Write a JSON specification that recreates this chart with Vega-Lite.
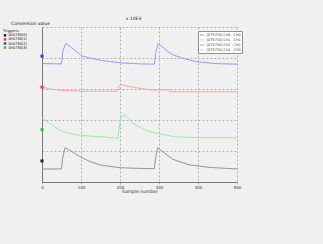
{
  "$schema": "https://vega.github.io/schema/vega-lite/v6.json",
  "width": 195,
  "height": 155,
  "autosize": {"type": "none"},
  "padding": {"left": 42, "top": 27, "right": 86, "bottom": 62},
  "background": "#f0f0f0",
  "config": {
    "font": "DejaVu Sans",
    "view": {"fill": "#f0f0f0", "stroke": null}
  },
  "title": {"text": "x 10E4", "fontSize": 4.5, "fontWeight": "normal", "color": "#333333", "offset": 0, "anchor": "middle", "dx": -6},
  "datasets": {
    "traces": [
      {"channel": "[DT5730] Ch0 - CH0", "sample": 0, "value": 0.42},
      {"channel": "[DT5730] Ch0 - CH0", "sample": 50, "value": 0.42},
      {"channel": "[DT5730] Ch0 - CH0", "sample": 53, "value": 0.77},
      {"channel": "[DT5730] Ch0 - CH0", "sample": 59, "value": 1.11},
      {"channel": "[DT5730] Ch0 - CH0", "sample": 72, "value": 1.02},
      {"channel": "[DT5730] Ch0 - CH0", "sample": 97, "value": 0.82},
      {"channel": "[DT5730] Ch0 - CH0", "sample": 123, "value": 0.66},
      {"channel": "[DT5730] Ch0 - CH0", "sample": 149, "value": 0.55},
      {"channel": "[DT5730] Ch0 - CH0", "sample": 200, "value": 0.46},
      {"channel": "[DT5730] Ch0 - CH0", "sample": 251, "value": 0.44},
      {"channel": "[DT5730] Ch0 - CH0", "sample": 288, "value": 0.43},
      {"channel": "[DT5730] Ch0 - CH0", "sample": 291, "value": 0.77},
      {"channel": "[DT5730] Ch0 - CH0", "sample": 297, "value": 1.11},
      {"channel": "[DT5730] Ch0 - CH0", "sample": 310, "value": 0.97},
      {"channel": "[DT5730] Ch0 - CH0", "sample": 336, "value": 0.73},
      {"channel": "[DT5730] Ch0 - CH0", "sample": 354, "value": 0.65},
      {"channel": "[DT5730] Ch0 - CH0", "sample": 379, "value": 0.55},
      {"channel": "[DT5730] Ch0 - CH0", "sample": 431, "value": 0.47},
      {"channel": "[DT5730] Ch0 - CH0", "sample": 500, "value": 0.42},

      {"channel": "[DT5730] Ch1 - CH1", "sample": 0, "value": 3.07},
      {"channel": "[DT5730] Ch1 - CH1", "sample": 20, "value": 3.0},
      {"channel": "[DT5730] Ch1 - CH1", "sample": 55, "value": 2.95},
      {"channel": "[DT5730] Ch1 - CH1", "sample": 100, "value": 2.93},
      {"channel": "[DT5730] Ch1 - CH1", "sample": 194, "value": 2.93},
      {"channel": "[DT5730] Ch1 - CH1", "sample": 196, "value": 3.06},
      {"channel": "[DT5730] Ch1 - CH1", "sample": 201, "value": 3.15},
      {"channel": "[DT5730] Ch1 - CH1", "sample": 213, "value": 3.11},
      {"channel": "[DT5730] Ch1 - CH1", "sample": 238, "value": 3.05},
      {"channel": "[DT5730] Ch1 - CH1", "sample": 277, "value": 2.97},
      {"channel": "[DT5730] Ch1 - CH1", "sample": 326, "value": 2.97},
      {"channel": "[DT5730] Ch1 - CH1", "sample": 328, "value": 2.91},
      {"channel": "[DT5730] Ch1 - CH1", "sample": 500, "value": 2.91},

      {"channel": "[DT5730] Ch2 - CH2", "sample": 0, "value": 3.82},
      {"channel": "[DT5730] Ch2 - CH2", "sample": 50, "value": 3.81},
      {"channel": "[DT5730] Ch2 - CH2", "sample": 53, "value": 4.2},
      {"channel": "[DT5730] Ch2 - CH2", "sample": 61, "value": 4.47},
      {"channel": "[DT5730] Ch2 - CH2", "sample": 72, "value": 4.37},
      {"channel": "[DT5730] Ch2 - CH2", "sample": 85, "value": 4.24},
      {"channel": "[DT5730] Ch2 - CH2", "sample": 102, "value": 4.07},
      {"channel": "[DT5730] Ch2 - CH2", "sample": 123, "value": 4.0},
      {"channel": "[DT5730] Ch2 - CH2", "sample": 153, "value": 3.92},
      {"channel": "[DT5730] Ch2 - CH2", "sample": 204, "value": 3.84},
      {"channel": "[DT5730] Ch2 - CH2", "sample": 251, "value": 3.81},
      {"channel": "[DT5730] Ch2 - CH2", "sample": 288, "value": 3.8},
      {"channel": "[DT5730] Ch2 - CH2", "sample": 292, "value": 4.19},
      {"channel": "[DT5730] Ch2 - CH2", "sample": 298, "value": 4.47},
      {"channel": "[DT5730] Ch2 - CH2", "sample": 310, "value": 4.35},
      {"channel": "[DT5730] Ch2 - CH2", "sample": 323, "value": 4.21},
      {"channel": "[DT5730] Ch2 - CH2", "sample": 336, "value": 4.1},
      {"channel": "[DT5730] Ch2 - CH2", "sample": 367, "value": 3.97},
      {"channel": "[DT5730] Ch2 - CH2", "sample": 397, "value": 3.88},
      {"channel": "[DT5730] Ch2 - CH2", "sample": 444, "value": 3.82},
      {"channel": "[DT5730] Ch2 - CH2", "sample": 500, "value": 3.8},

      {"channel": "[DT5730] Ch3 - CH3", "sample": 0, "value": 2.05},
      {"channel": "[DT5730] Ch3 - CH3", "sample": 10, "value": 1.97},
      {"channel": "[DT5730] Ch3 - CH3", "sample": 25, "value": 1.84},
      {"channel": "[DT5730] Ch3 - CH3", "sample": 38, "value": 1.73},
      {"channel": "[DT5730] Ch3 - CH3", "sample": 55, "value": 1.62},
      {"channel": "[DT5730] Ch3 - CH3", "sample": 72, "value": 1.56},
      {"channel": "[DT5730] Ch3 - CH3", "sample": 93, "value": 1.52},
      {"channel": "[DT5730] Ch3 - CH3", "sample": 123, "value": 1.48},
      {"channel": "[DT5730] Ch3 - CH3", "sample": 153, "value": 1.46},
      {"channel": "[DT5730] Ch3 - CH3", "sample": 192, "value": 1.41},
      {"channel": "[DT5730] Ch3 - CH3", "sample": 195, "value": 1.4},
      {"channel": "[DT5730] Ch3 - CH3", "sample": 199, "value": 1.84},
      {"channel": "[DT5730] Ch3 - CH3", "sample": 203, "value": 2.1},
      {"channel": "[DT5730] Ch3 - CH3", "sample": 208, "value": 2.16},
      {"channel": "[DT5730] Ch3 - CH3", "sample": 215, "value": 2.13},
      {"channel": "[DT5730] Ch3 - CH3", "sample": 226, "value": 2.0},
      {"channel": "[DT5730] Ch3 - CH3", "sample": 234, "value": 1.89},
      {"channel": "[DT5730] Ch3 - CH3", "sample": 251, "value": 1.76},
      {"channel": "[DT5730] Ch3 - CH3", "sample": 277, "value": 1.62},
      {"channel": "[DT5730] Ch3 - CH3", "sample": 303, "value": 1.55},
      {"channel": "[DT5730] Ch3 - CH3", "sample": 341, "value": 1.46},
      {"channel": "[DT5730] Ch3 - CH3", "sample": 392, "value": 1.43},
      {"channel": "[DT5730] Ch3 - CH3", "sample": 500, "value": 1.43}
    ],
    "markers": [
      {"trigger": "Dt5730(0)", "sample": 0, "value": 0.68},
      {"trigger": "Dt5730(1)", "sample": 0, "value": 3.06},
      {"trigger": "Dt5730(2)", "sample": 0, "value": 4.06},
      {"trigger": "Dt5730(3)", "sample": 0, "value": 1.69}
    ]
  },
  "layer": [
    {
      "data": {"name": "traces"},
      "mark": {"type": "line", "strokeWidth": 0.9},
      "encoding": {
        "x": {
          "field": "sample", "type": "quantitative",
          "scale": {"domain": [0, 500], "nice": false},
          "axis": {
            "values": [0, 100, 200, 300, 400, 500], "tickCount": 20, "labelOverlap": false,
            "grid": true, "gridDash": [2, 2], "gridColor": "#a0a0a0", "gridWidth": 0.8,
            "domainColor": "#777777", "domainWidth": 1,
            "ticks": true, "tickSize": 2, "tickColor": "#808080", "tickWidth": 0.6,
            "labelFontSize": 4, "labelPadding": 1, "labelColor": "#333333", "labelFlush": false,
            "title": "Sample number", "titleFontSize": 4.5, "titleFontWeight": "normal", "titleColor": "#333333",
            "titleY": 9, "titleBaseline": "middle"
          }
        },
        "y": {
          "field": "value", "type": "quantitative",
          "scale": {"domain": [0, 5], "nice": false},
          "axis": {
            "values": [0, 1, 2, 3, 4, 5], "tickCount": 20,
            "grid": true, "gridDash": [2, 2], "gridColor": "#a0a0a0", "gridWidth": 0.8,
            "domainColor": "#777777", "domainWidth": 1,
            "ticks": false, "labels": false,
            "title": "Conversion value", "titleFontSize": 4.5, "titleFontWeight": "normal", "titleColor": "#222222",
            "titleAngle": 0, "titleX": -12, "titleY": -4, "titleAlign": "center", "titleBaseline": "middle"
          }
        },
        "color": {
          "field": "channel", "type": "nominal",
          "scale": {
            "domain": ["[DT5730] Ch0 - CH0", "[DT5730] Ch1 - CH1", "[DT5730] Ch2 - CH2", "[DT5730] Ch3 - CH3"],
            "range": ["#8a8a8a", "#ff9a9a", "#8f8fff", "#8fef8f"]
          },
          "legend": {
            "orient": "none", "legendX": 156, "legendY": 4,
            "title": null, "symbolType": "stroke", "symbolSize": 20, "symbolStrokeWidth": 0.8,
            "labelFontSize": 3.4, "labelColor": "#333333", "labelOffset": 1.5,
            "rowPadding": 0, "padding": 1, "fillColor": "#ffffff", "strokeColor": "#909090",
            "labelLimit": 60
          }
        }
      }
    },
    {
      "data": {"name": "markers"},
      "mark": {"type": "square", "size": 9, "opacity": 1, "filled": true},
      "encoding": {
        "x": {"field": "sample", "type": "quantitative"},
        "y": {"field": "value", "type": "quantitative"},
        "fill": {
          "field": "trigger", "type": "nominal",
          "scale": {
            "domain": ["Dt5730(0)", "Dt5730(1)", "Dt5730(2)", "Dt5730(3)"],
            "range": ["#202020", "#ff3030", "#3030ff", "#20d020"]
          },
          "legend": {
            "orient": "none", "legendX": -39, "legendY": 2,
            "title": "Triggers:", "titleFontSize": 3.8, "titleFontWeight": "normal", "titleColor": "#222222", "titlePadding": 0.5,
            "symbolType": "square", "symbolSize": 6, "labelFontSize": 3.6, "labelOffset": 1.5,
            "rowPadding": 0.1, "padding": 0,
            "encode": {"labels": {"update": {"fill": {"scale": "fill", "field": "value"}}}}
          }
        }
      }
    }
  ]
}
